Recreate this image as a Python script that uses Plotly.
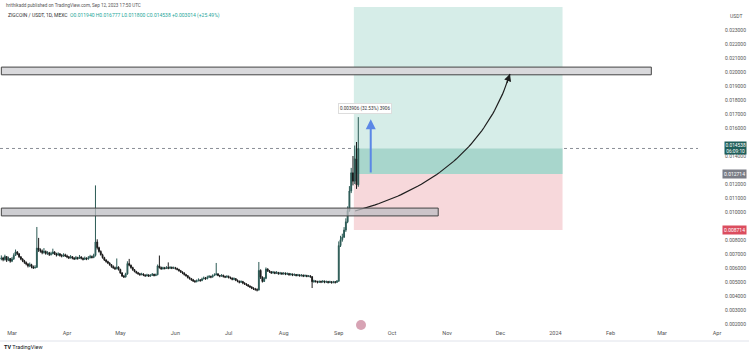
import numpy as np
import pandas as pd
import plotly.graph_objects as go

# ---------------- data (daily candles, ZIGCOIN/USDT) ----------------
start_date = "2023-02-23"
open_first = 0.00665

close_feb = [0.00671, 0.00660, 0.00682, 0.00655, 0.00668, 0.00649]
high_feb = [0.00690, 0.00680, 0.00695, 0.00684, 0.00681, 0.00670]
low_feb = [0.00655, 0.00648, 0.00653, 0.00643, 0.00649, 0.00638]

close_mar = [0.00665, 0.00690, 0.00715, 0.00702, 0.00680, 0.00664, 0.00651, 0.00640, 0.00628, 0.00615,
             0.00624, 0.00609, 0.00601, 0.00605, 0.00742, 0.00730, 0.00721, 0.00710, 0.00718, 0.00704,
             0.00709, 0.00696, 0.00702, 0.00714, 0.00700, 0.00693, 0.00701, 0.00690, 0.00685, 0.00694, 0.00686]
high_mar = [0.00678, 0.00705, 0.00732, 0.00720, 0.00705, 0.00684, 0.00670, 0.00658, 0.00646, 0.00635,
            0.00639, 0.00630, 0.00618, 0.00620, 0.00893, 0.00815, 0.00740, 0.00732, 0.00742, 0.00725,
            0.00720, 0.00715, 0.00716, 0.00738, 0.00720, 0.00709, 0.00712, 0.00706, 0.00699, 0.00705, 0.00702]
low_mar = [0.00642, 0.00658, 0.00687, 0.00692, 0.00672, 0.00656, 0.00642, 0.00630, 0.00619, 0.00604,
           0.00606, 0.00598, 0.00593, 0.00596, 0.00600, 0.00715, 0.00710, 0.00698, 0.00703, 0.00695,
           0.00694, 0.00686, 0.00689, 0.00698, 0.00693, 0.00682, 0.00687, 0.00681, 0.00676, 0.00680, 0.00679]

close_apr = [0.00680, 0.00672, 0.00681, 0.00670, 0.00665, 0.00674, 0.00668, 0.00679, 0.00669, 0.00662,
             0.00670, 0.00664, 0.00673, 0.00682, 0.00675, 0.00690, 0.00786, 0.00745, 0.00718, 0.00695,
             0.00674, 0.00658, 0.00646, 0.00635, 0.00624, 0.00610, 0.00602, 0.00595, 0.00606, 0.00589]
high_apr = [0.00695, 0.00686, 0.00692, 0.00685, 0.00678, 0.00686, 0.00680, 0.00693, 0.00684, 0.00675,
            0.00682, 0.00676, 0.00685, 0.00694, 0.00689, 0.00702, 0.01190, 0.00805, 0.00752, 0.00726,
            0.00702, 0.00680, 0.00662, 0.00652, 0.00641, 0.00628, 0.00619, 0.00610, 0.00668, 0.00612]
low_apr = [0.00670, 0.00664, 0.00668, 0.00662, 0.00657, 0.00660, 0.00659, 0.00665, 0.00661, 0.00654,
           0.00658, 0.00656, 0.00660, 0.00669, 0.00668, 0.00670, 0.00682, 0.00732, 0.00710, 0.00689,
           0.00667, 0.00650, 0.00638, 0.00628, 0.00616, 0.00602, 0.00594, 0.00586, 0.00590, 0.00582]

close_may = [0.00565, 0.00542, 0.00536, 0.00558, 0.00632, 0.00620, 0.00603, 0.00588, 0.00575, 0.00566,
             0.00559, 0.00552, 0.00557, 0.00549, 0.00544, 0.00550, 0.00542, 0.00548, 0.00555, 0.00546,
             0.00552, 0.00615, 0.00603, 0.00594, 0.00601, 0.00596, 0.00604, 0.00598, 0.00605, 0.00599, 0.00602]
high_may = [0.00595, 0.00570, 0.00550, 0.00566, 0.00648, 0.00665, 0.00624, 0.00609, 0.00592, 0.00580,
            0.00572, 0.00565, 0.00566, 0.00562, 0.00555, 0.00559, 0.00556, 0.00555, 0.00564, 0.00559,
            0.00560, 0.00625, 0.00689, 0.00610, 0.00609, 0.00608, 0.00613, 0.00640, 0.00612, 0.00610, 0.00610]
low_may = [0.00558, 0.00536, 0.00529, 0.00532, 0.00552, 0.00612, 0.00595, 0.00580, 0.00569, 0.00559,
           0.00552, 0.00545, 0.00548, 0.00542, 0.00537, 0.00540, 0.00536, 0.00538, 0.00544, 0.00540,
           0.00542, 0.00548, 0.00596, 0.00587, 0.00589, 0.00590, 0.00593, 0.00591, 0.00593, 0.00592, 0.00593]

close_jun = [0.00596, 0.00590, 0.00581, 0.00572, 0.00564, 0.00553, 0.00545, 0.00532, 0.00524, 0.00516,
             0.00508, 0.00502, 0.00509, 0.00515, 0.00510, 0.00522, 0.00528, 0.00523, 0.00534, 0.00539,
             0.00535, 0.00546, 0.00551, 0.00558, 0.00547, 0.00542, 0.00548, 0.00539, 0.00535, 0.00540]
high_jun = [0.00608, 0.00602, 0.00594, 0.00586, 0.00576, 0.00569, 0.00558, 0.00549, 0.00538, 0.00529,
            0.00522, 0.00514, 0.00518, 0.00526, 0.00521, 0.00531, 0.00539, 0.00536, 0.00545, 0.00550,
            0.00546, 0.00555, 0.00562, 0.00636, 0.00563, 0.00551, 0.00556, 0.00552, 0.00545, 0.00549]
low_jun = [0.00589, 0.00583, 0.00574, 0.00565, 0.00556, 0.00546, 0.00538, 0.00525, 0.00517, 0.00508,
           0.00500, 0.00495, 0.00498, 0.00505, 0.00502, 0.00506, 0.00519, 0.00516, 0.00520, 0.00529,
           0.00527, 0.00532, 0.00542, 0.00548, 0.00541, 0.00534, 0.00537, 0.00532, 0.00528, 0.00530]

close_jul = [0.00532, 0.00528, 0.00519, 0.00524, 0.00512, 0.00506, 0.00498, 0.00503, 0.00492, 0.00486,
             0.00480, 0.00471, 0.00465, 0.00456, 0.00450, 0.00446, 0.00442, 0.00583, 0.00535, 0.00504,
             0.00526, 0.00592, 0.00580, 0.00573, 0.00565, 0.00570, 0.00562, 0.00568, 0.00559, 0.00564, 0.00558]
high_jul = [0.00546, 0.00539, 0.00532, 0.00533, 0.00528, 0.00518, 0.00510, 0.00512, 0.00508, 0.00498,
            0.00491, 0.00484, 0.00476, 0.00469, 0.00462, 0.00458, 0.00455, 0.00643, 0.00590, 0.00540,
            0.00536, 0.00604, 0.00598, 0.00586, 0.00578, 0.00579, 0.00575, 0.00578, 0.00572, 0.00572, 0.00570]
low_jul = [0.00525, 0.00520, 0.00512, 0.00513, 0.00506, 0.00498, 0.00490, 0.00494, 0.00484, 0.00479,
           0.00472, 0.00464, 0.00457, 0.00449, 0.00443, 0.00438, 0.00433, 0.00440, 0.00522, 0.00496,
           0.00500, 0.00520, 0.00572, 0.00566, 0.00558, 0.00560, 0.00556, 0.00558, 0.00552, 0.00553, 0.00551]

close_aug = [0.00563, 0.00556, 0.00560, 0.00552, 0.00557, 0.00549, 0.00554, 0.00546, 0.00551, 0.00545,
             0.00549, 0.00542, 0.00547, 0.00540, 0.00544, 0.00538, 0.00502, 0.00508, 0.00503, 0.00498,
             0.00504, 0.00500, 0.00506, 0.00499, 0.00503, 0.00497, 0.00502, 0.00496, 0.00501, 0.00498, 0.00506]
high_aug = [0.00570, 0.00568, 0.00568, 0.00565, 0.00564, 0.00560, 0.00561, 0.00556, 0.00558, 0.00554,
            0.00556, 0.00553, 0.00553, 0.00551, 0.00550, 0.00548, 0.00542, 0.00516, 0.00512, 0.00509,
            0.00511, 0.00510, 0.00513, 0.00510, 0.00510, 0.00508, 0.00509, 0.00507, 0.00508, 0.00507, 0.00514]
low_aug = [0.00552, 0.00549, 0.00550, 0.00545, 0.00546, 0.00542, 0.00544, 0.00540, 0.00541, 0.00538,
           0.00539, 0.00535, 0.00537, 0.00534, 0.00535, 0.00530, 0.00457, 0.00495, 0.00496, 0.00490,
           0.00493, 0.00492, 0.00495, 0.00491, 0.00493, 0.00489, 0.00492, 0.00488, 0.00491, 0.00489, 0.00493]

close_sep = [0.00760, 0.00802, 0.00820, 0.00871, 0.00930, 0.01010, 0.01150, 0.01280, 0.01220, 0.01380, 0.01194, 0.014538]
high_sep = [0.00790, 0.00830, 0.00845, 0.00892, 0.00955, 0.01040, 0.01185, 0.01315, 0.01400, 0.01475, 0.01500, 0.016777]
low_sep = [0.00502, 0.00750, 0.00788, 0.00815, 0.00858, 0.00920, 0.01002, 0.01135, 0.01190, 0.01200, 0.01165, 0.01180]

# drawing levels (long position tool, zones)
entry_price = 0.012714
stop_price = 0.008714
target_price = 0.024643
current_price = 0.014538
measure_top = 0.016620
upper_zone = (0.01980, 0.02035)
lower_zone = (0.00972, 0.01028)

# price-scale ticks (those hidden behind the price labels are left out)
y_ticks = [0.023, 0.022, 0.021, 0.020, 0.019, 0.018, 0.017, 0.016, 0.014,
           0.012, 0.011, 0.010, 0.008, 0.007, 0.006, 0.005, 0.004, 0.003, 0.002]
x_tick_dates = ["2023-03-01", "2023-04-01", "2023-05-01", "2023-06-01", "2023-07-01", "2023-08-01",
                "2023-09-01", "2023-10-01", "2023-11-01", "2023-12-01", "2024-01-01", "2024-02-01",
                "2024-03-01", "2024-04-01"]
x_tick_text = ["Mar", "Apr", "May", "Jun", "Jul", "Aug", "Sep", "Oct", "Nov", "Dec", "2024", "Feb", "Mar", "Apr"]

# ---------------- build ----------------
close = close_feb + close_mar + close_apr + close_may + close_jun + close_jul + close_aug + close_sep
high = high_feb + high_mar + high_apr + high_may + high_jun + high_jul + high_aug + high_sep
low = low_feb + low_mar + low_apr + low_may + low_jun + low_jul + low_aug + low_sep
opens = [open_first] + close[:-1]
dates = pd.date_range(start_date, periods=len(close), freq="D")

W, H = 749, 354
ML, MR, MT, MB = 0, 0, 7, 26
PH = H - MT - MB


def px(xp):
    return (xp - ML) / (W - ML - MR)


def py(yp):
    return (H - MB - yp) / PH


fig = go.Figure()

fig.add_trace(go.Candlestick(
    x=dates, open=opens, high=high, low=low, close=close,
    increasing=dict(line=dict(color="#2b5a55", width=1), fillcolor="#2b5a55"),
    decreasing=dict(line=dict(color="#1a1a1a", width=1), fillcolor="#1a1a1a"),
    whiskerwidth=0, showlegend=False, hoverinfo="skip",
))

# curved arrow (drawing) as quadratic bezier in data space
p0 = (pd.Timestamp("2023-09-10 05:00"), 0.01007)
p1 = (pd.Timestamp("2023-11-18 00:00"), 0.01243)
p2 = (pd.Timestamp("2023-12-06 10:00"), 0.01986)
t = np.linspace(0, 1, 60)
t0 = p0[0].value
xs = 2 * (1 - t) * t * (p1[0].value - t0) + (t ** 2) * (p2[0].value - t0) + t0
ys = ((1 - t) ** 2) * p0[1] + 2 * (1 - t) * t * p1[1] + (t ** 2) * p2[1]
fig.add_trace(go.Scatter(x=pd.to_datetime(xs), y=ys, mode="lines",
                         line=dict(color="#1e1e1e", width=1.2), showlegend=False, hoverinfo="skip"))
tb = 0.95
xb = pd.to_datetime(2 * (1 - tb) * tb * (p1[0].value - t0) + tb ** 2 * (p2[0].value - t0) + t0)
yb = (1 - tb) ** 2 * p0[1] + 2 * (1 - tb) * tb * p1[1] + tb ** 2 * p2[1]

pos_x0 = "2023-09-09 12:00"
pos_x1 = "2024-01-05"
shapes = [
    dict(type="rect", xref="x", yref="y", x0=pos_x0, x1=pos_x1, y0=entry_price, y1=target_price,
         fillcolor="#d6ede8", line=dict(width=0), layer="below"),
    dict(type="rect", xref="x", yref="y", x0=pos_x0, x1=pos_x1, y0=entry_price, y1=current_price,
         fillcolor="#a8d6cc", line=dict(width=0), layer="below"),
    dict(type="rect", xref="x", yref="y", x0=pos_x0, x1=pos_x1, y0=stop_price, y1=entry_price,
         fillcolor="#f7d8db", line=dict(width=0), layer="below"),
    dict(type="rect", xref="x", yref="y", x0="2023-02-23", x1="2024-02-24", y0=upper_zone[0], y1=upper_zone[1],
         fillcolor="#d9d9dc", line=dict(width=1, color="#444444"), layer="below"),
    dict(type="rect", xref="x", yref="y", x0="2023-02-23", x1="2023-10-27", y0=lower_zone[0], y1=lower_zone[1],
         fillcolor="rgba(190,190,195,0.75)", line=dict(width=1, color="#444444"), layer="above"),
    dict(type="line", xref="paper", yref="y", x0=0, x1=px(698), y0=current_price, y1=current_price,
         line=dict(color="#8a8e97", width=1, dash="dot"), layer="below"),
    dict(type="line", xref="paper", yref="paper", x0=0, x1=1, y0=py(341), y1=py(341),
         line=dict(color="#e0e3eb", width=1)),
    dict(type="circle", xref="paper", yref="paper", x0=px(356), x1=px(366), y0=py(330), y1=py(320),
         fillcolor="#d7a3b4", line=dict(width=0)),
]

annotations = [
    dict(xref="paper", yref="paper", x=px(4), y=py(5), xanchor="left", yanchor="middle", showarrow=False,
         text="hrithikadd published on TradingView.com, Sep 12, 2023 17:50 UTC",
         font=dict(size=4.6, color="#555555", family="Roboto")),
    dict(xref="paper", yref="paper", x=px(6), y=py(15), xanchor="left", yanchor="middle", showarrow=False,
         text="ZIGCOIN / USDT, 1D, MEXC  <span style='color:#26a69a'>O0.011940 H0.016777 L0.011800 C0.014538 +0.003014 (+25.49%)</span>",
         font=dict(size=5, color="#333333", family="Roboto")),
    dict(xref="paper", yref="paper", x=px(744), y=py(16), xanchor="right", yanchor="middle", showarrow=False,
         text="USDT", font=dict(size=5, color="#555555", family="Roboto")),
    # right price labels
    dict(xref="paper", yref="y", x=px(747), y=current_price, xanchor="right", yanchor="middle", showarrow=False,
         text="0.014538<br>06:09:10", bgcolor="#1f5f5a", borderpad=0.5,
         font=dict(size=4.8, color="#ffffff", family="Roboto")),
    dict(xref="paper", yref="y", x=px(747), y=entry_price, xanchor="right", yanchor="middle", showarrow=False,
         text="0.012714", bgcolor="#7a7d86", borderpad=1,
         font=dict(size=5, color="#ffffff", family="Roboto")),
    dict(xref="paper", yref="y", x=px(747), y=stop_price, xanchor="right", yanchor="middle", showarrow=False,
         text="0.008714", bgcolor="#db4d5e", borderpad=1,
         font=dict(size=5, color="#ffffff", family="Roboto")),
    # measure arrow (blue)
    dict(xref="x", yref="y", x="2023-09-19", y=measure_top, axref="x", ayref="y", ax="2023-09-19", ay=entry_price,
         showarrow=True, arrowhead=2, arrowsize=1, arrowwidth=2, arrowcolor="#5b87e6", text=""),
    dict(xref="x", yref="paper", x="2023-09-16", y=py(108), xanchor="center", yanchor="middle", showarrow=False,
         text="0.003906 (32.53%) 3906", bgcolor="#ffffff", bordercolor="#dddddd", borderwidth=1, borderpad=1,
         font=dict(size=4.6, color="#333333", family="Roboto")),
    # curve arrow head
    dict(xref="x", yref="y", x=p2[0].isoformat(), y=p2[1], axref="x", ayref="y", ax=xb.isoformat(), ay=yb,
         showarrow=True, arrowhead=2, arrowsize=1.2, arrowwidth=1.2, arrowcolor="#1e1e1e", text=""),
    # logo
    dict(xref="paper", yref="paper", x=px(2), y=py(347), xanchor="left", yanchor="middle", showarrow=False,
         text="<b>TV</b> TradingView", font=dict(size=5.5, color="#131722", family="Roboto")),
]

fig.update_layout(
    width=W, height=H,
    margin=dict(l=ML, r=MR, t=MT, b=MB, pad=0),
    paper_bgcolor="#ffffff", plot_bgcolor="#ffffff",
    shapes=shapes, annotations=annotations,
    showlegend=False,
    xaxis=dict(type="date", range=["2023-02-22 06:00", "2024-04-19"], rangeslider=dict(visible=False),
               tickvals=x_tick_dates, ticktext=x_tick_text, showgrid=False, zeroline=False,
               showline=False, ticks="", tickfont=dict(size=5.5, color="#555555", family="Roboto")),
    yaxis=dict(side="right", range=[0.001714, target_price], tickvals=y_ticks,
               ticktext=[f"{v:.6f}" for v in y_ticks], ticklabelposition="inside",
               showgrid=False, zeroline=False, showline=False, ticks="",
               tickfont=dict(size=5, color="#555555", family="Roboto")),
    font=dict(family="Roboto"),
)

fig.write_html("out.html")
